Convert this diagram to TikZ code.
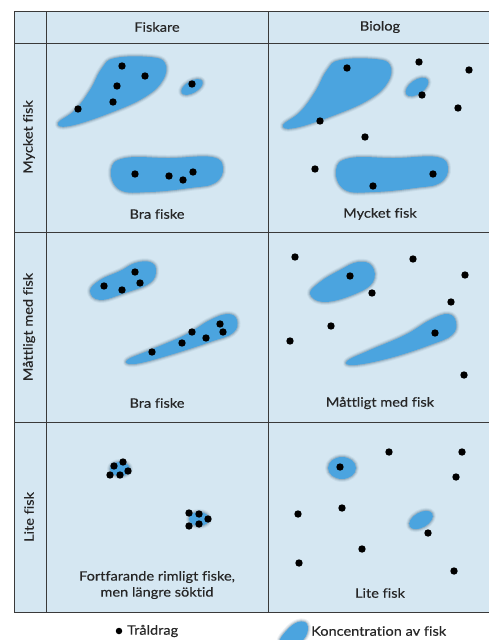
\documentclass[tikz,border=0pt]{standalone}
\usepackage{fontspec}
\setmainfont{Lato}[FakeStretch=1.12, FakeBold=0.3, Ligatures=NoCommon]
\definecolor{bgblue}{HTML}{D5E7F2}
\definecolor{blobc}{HTML}{4BA4DF}
\definecolor{haloc}{HTML}{5F7F96}
\definecolor{gridc}{HTML}{3A3A3A}
\tikzset{
  blob/.style={fill=blobc,
    preaction={draw=haloc, line width=6pt, draw opacity=0.10, line join=round},
    preaction={draw=haloc, line width=4pt, draw opacity=0.18, line join=round},
    preaction={draw=haloc, line width=2pt, draw opacity=0.32, line join=round}},
  dot/.style={circle, fill=black, inner sep=0pt, minimum size=7.4pt},
  lbl/.style={font=\fontsize{13}{16}\selectfont, text=black!85, inner sep=0pt},
  grid/.style={draw=gridc, line width=0.9pt}
}
\begin{document}
\begin{tikzpicture}[x=1pt,y=-1pt]
\useasboundingbox (0,0) rectangle (489,640);
\clip (0,0) rectangle (489,640);
% table background and grid
\fill[bgblue] (14,11) rectangle (495,612);
\draw[grid] (495,11) -- (14,11) -- (14,612) -- (495,612);
\foreach \yy in {43,232,422} \draw[grid] (14,\yy) -- (495,\yy);
\draw[grid] (46,11) -- (46,612);
\draw[grid] (268,11) -- (268,612);
% headers
\node[lbl] (hF) at (157,27) {Fiskare};
\node[lbl] (hB) at (380,27) {Biolog};
\node[lbl, rotate=90] (r1) at (29,137) {Mycket fisk};
\node[lbl, rotate=90] (r2) at (29,327) {Måttligt med fisk};
\node[lbl, rotate=90] (r3) at (29,517) {Lite fisk};
% captions
\node[lbl] (c11) at (157,214) {Bra fiske};
\node[lbl] (c12) at (380,214) {Mycket fisk};
\node[lbl] (c21) at (157,403) {Bra fiske};
\node[lbl] (c22) at (380,403) {Måttligt med fisk};
\node[lbl, align=center] (c31) at (157,585) {Fortfarande rimligt fiske,\\men längre söktid};
\node[lbl] (c32) at (380,593) {Lite fisk};

% ---- row 1, Fiskare
\path[blob] plot[smooth cycle, tension=0.7] coordinates {(58,123) (75,110) (90,90) (102,68) (115,58) (150,57) (165,63) (163,80) (145,97) (110,113) (70,126)};
\path[blob] (192,87) ellipse [x radius=12, y radius=6, rotate=30];
\path[blob] plot[smooth cycle, tension=0.7] coordinates {(111,170) (125,158) (170,158) (212,157) (223,168) (215,183) (190,188) (150,192) (120,190)};
\foreach \n/\p in {a/{(122,66)}, b/{(145,76)}, c/{(117,86)}, d/{(113,102)}, e/{(78,109)}, f/{(192,84)}, g/{(135,174)}, h/{(169,176)}, i/{(183,180)}, j/{(193,172)}}
  \node[dot] (d11\n) at \p {};
% ---- row 1, Biolog
\path[blob] plot[smooth cycle, tension=0.7] coordinates {(283,125) (300,112) (315,92) (327,70) (340,60) (375,59) (390,65) (388,82) (370,99) (335,115) (295,128)};
\path[blob] (417,87) ellipse [x radius=13, y radius=7, rotate=35];
\path[blob] plot[smooth cycle, tension=0.7] coordinates {(336,170) (350,158) (395,158) (437,157) (448,168) (440,183) (415,188) (375,192) (345,190)};
\foreach \n/\p in {a/{(347,68)}, b/{(419,62)}, c/{(469,70)}, d/{(422,95)}, e/{(458,108)}, f/{(320,121)}, g/{(365,137)}, h/{(315,169)}, i/{(373,186)}, j/{(433,174)}}
  \node[dot] (d12\n) at \p {};

% ---- row 2, Fiskare
\path[blob] plot[smooth cycle, tension=0.7] coordinates {(90,291) (100,280) (120,271) (135,263) (150,262) (156,270) (150,283) (125,293) (100,300)};
\path[blob] plot[smooth cycle, tension=0.7] coordinates {(127,360) (150,350) (185,335) (210,320) (228,314) (237,320) (233,333) (210,342) (170,355) (135,364)};
\foreach \n/\p in {a/{(104,286)}, b/{(122,290)}, c/{(135,272)}, d/{(140,283)}, e/{(152,352)}, f/{(182,343)}, g/{(192,332)}, h/{(206,338)}, i/{(220,324)}, j/{(223,332)}}
  \node[dot] (d21\n) at \p {};
% ---- row 2, Biolog
\path[blob] plot[smooth cycle, tension=0.7] coordinates {(310,294) (320,282) (340,270) (358,262) (372,266) (373,282) (355,294) (325,302)};
\path[blob] plot[smooth cycle, tension=0.7] coordinates {(347,361) (370,350) (405,335) (430,320) (448,314) (456,322) (452,335) (430,345) (390,358) (355,365)};
\foreach \n/\p in {a/{(350,276)}, b/{(372,293)}, c/{(295,257)}, d/{(413,259)}, e/{(465,275)}, f/{(451,302)}, g/{(331,326)}, h/{(290,341)}, i/{(435,333)}, j/{(464,375)}}
  \node[dot] (d22\n) at \p {};

% ---- row 3, Fiskare
\path[blob] (120,469) ellipse [x radius=10, y radius=7];
\path[blob] (199,519) ellipse [x radius=10, y radius=7];
\foreach \n/\p in {a/{(114,466)}, b/{(123,462)}, c/{(110,475)}, d/{(120,475)}, e/{(128,471)}, f/{(189,513)}, g/{(199,514)}, h/{(208,519)}, i/{(189,526)}, j/{(199,524)}}
  \node[dot] (d31\n) at \p {};
% ---- row 3, Biolog
\path[blob] (342,468) ellipse [x radius=14, y radius=11];
\path[blob] (421,520) ellipse [x radius=13, y radius=7.5, rotate=30];
\foreach \n/\p in {a/{(340,467)}, b/{(428,533)}, c/{(389,452)}, d/{(462,452)}, e/{(456,477)}, f/{(298,514)}, g/{(342,508)}, h/{(362,549)}, i/{(299,563)}, j/{(454,571)}}
  \node[dot] (d32\n) at \p {};

% ---- legend
\node[dot, minimum size=6.5pt] (ldot) at (119,631) {};
\node[lbl, anchor=west] (ltxt) at (127,631) {Tråldrag};
\path[blob] plot[smooth cycle, tension=0.7] coordinates {(280,642) (287,630) (298,622) (307,624) (306,636) (295,645)};
\node[lbl, anchor=west] (lblob) at (311,631) {Koncentration av fisk};
\end{tikzpicture}
\end{document}
